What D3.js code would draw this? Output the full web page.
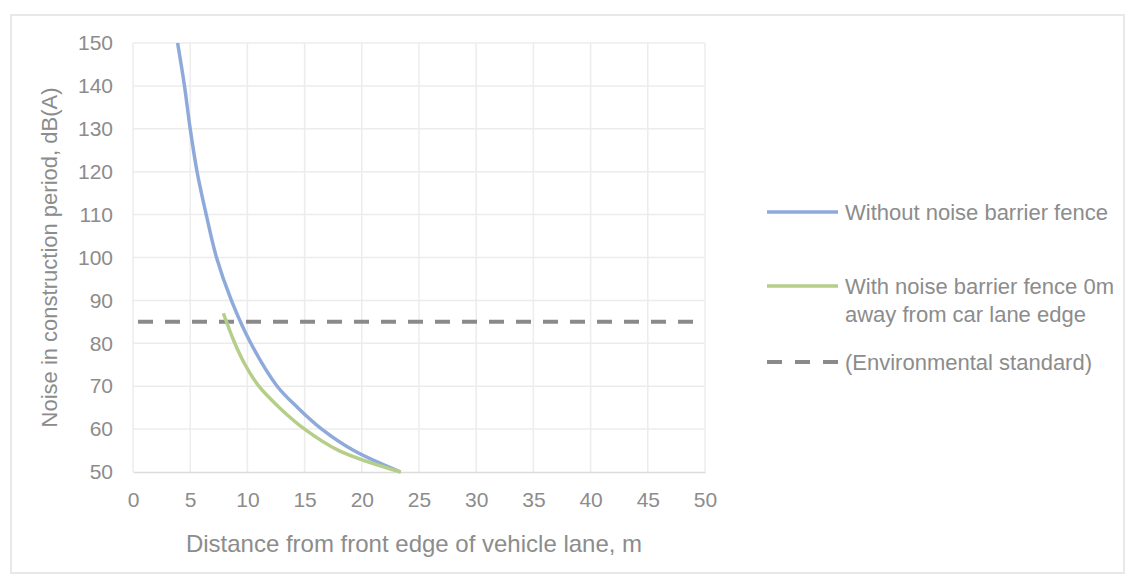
<!DOCTYPE html>
<html>
<head>
<meta charset="utf-8">
<script src="https://cdn.jsdelivr.net/npm/d3@7"></script>
<style>
    body { margin: 0; background: #fff; }
    text { font-family: "Liberation Sans", Arial, sans-serif; fill: #8c8c8c; }
</style>
</head>
<body>
<svg id="chart"></svg>
<script>
// data
const blueDist = [3.9, 4.5, 5.0, 5.6, 6.4, 7.3, 8.6, 10.3, 12.6, 14.4, 16.5, 19.3, 23.4];
const blueNoise = [150, 140, 130, 120, 110, 100, 90, 80, 70, 65, 60, 55, 50];
const greenDist = [7.9, 8.9, 9.8, 11.0, 12.8, 15.0, 18.0, 23.4];
const greenNoise = [87, 80, 75, 70, 65, 60, 55, 50];
const standardDist = [0, 50];
const standardNoise = [85, 85];
const xTicks = [0, 5, 10, 15, 20, 25, 30, 35, 40, 45, 50];
const yTicks = [50, 60, 70, 80, 90, 100, 110, 120, 130, 140, 150];
const legendLabels = [
    ['Without noise barrier fence'],
    ['With noise barrier fence 0m', 'away from car lane edge'],
    ['(Environmental standard)']
];

// dimensions
const W = 1130, H = 580;
const margin = { top: 43, right: 425, bottom: 108, left: 133 };
const width = W - margin.left - margin.right;
const height = H - margin.top - margin.bottom;

const root = d3.select('#chart').attr('width', W).attr('height', H);

// outer chart border
root.append('rect')
    .attr('x', 11).attr('y', 15)
    .attr('width', 1113).attr('height', 558)
    .attr('fill', 'none')
    .attr('stroke', '#e8e8e8')
    .attr('stroke-width', 2);

const svg = root.append('g')
    .attr('transform', `translate(${margin.left},${margin.top})`);

const x = d3.scaleLinear().domain([0, 50]).range([0, width]);
const y = d3.scaleLinear().domain([50, 150]).range([height, 0]);

// grid
svg.append('g').selectAll('line')
    .data(xTicks)
    .join('line')
    .attr('x1', d => x(d)).attr('x2', d => x(d))
    .attr('y1', 0).attr('y2', height)
    .attr('stroke', '#ececec')
    .attr('stroke-width', 1.5);

svg.append('g').selectAll('line')
    .data(yTicks.slice(1))
    .join('line')
    .attr('x1', 0).attr('x2', width)
    .attr('y1', d => y(d)).attr('y2', d => y(d))
    .attr('stroke', '#ececec')
    .attr('stroke-width', 1.5);

// axes
const xAxis = svg.append('g')
    .attr('transform', `translate(0,${height})`)
    .call(d3.axisBottom(x).tickValues(xTicks).tickSize(0).tickPadding(20));
xAxis.select('.domain').attr('stroke', '#dcdcdc').attr('stroke-width', 1.5);
xAxis.selectAll('text').style('font-size', '21px').attr('fill', '#8c8c8c');

const yAxis = svg.append('g')
    .call(d3.axisLeft(y).tickValues(yTicks).tickSize(0).tickPadding(20));
yAxis.select('.domain').remove();
yAxis.selectAll('text').style('font-size', '21px').attr('fill', '#8c8c8c');

// axis titles
svg.append('text')
    .attr('x', (x(0) + x(50)) / 2 - 5)
    .attr('y', height + 80)
    .style('text-anchor', 'middle')
    .style('font-size', '24px')
    .text('Distance from front edge of vehicle lane, m');

svg.append('text')
    .attr('transform', `translate(${-76},${height / 2}) rotate(-90)`)
    .style('text-anchor', 'middle')
    .style('font-size', '22px')
    .text('Noise in construction period, dB(A)');

// lines
const line = d3.line()
    .x(d => x(d[0]))
    .y(d => y(d[1]))
    .curve(d3.curveCatmullRom.alpha(0.5));

const standard = d3.zip(standardDist, standardNoise);
const blue = d3.zip(blueDist, blueNoise);
const green = d3.zip(greenDist, greenNoise);

svg.append('path')
    .datum(standard)
    .attr('d', d3.line().x(d => x(d[0])).y(d => y(d[1])))
    .attr('fill', 'none')
    .attr('stroke', '#8a8a8a')
    .attr('stroke-width', 4)
    .attr('stroke-dasharray', '15,12')
    .attr('stroke-dashoffset', 22);

svg.append('path')
    .datum(blue)
    .attr('d', line)
    .attr('fill', 'none')
    .attr('stroke', '#8eaadb')
    .attr('stroke-width', 3.5);

svg.append('path')
    .datum(green)
    .attr('d', line)
    .attr('fill', 'none')
    .attr('stroke', '#b5cf8a')
    .attr('stroke-width', 3.5);

// legend
const legend = root.append('g').attr('transform', 'translate(767,0)');
const legendY = [212, 286, 362];
const legendStyle = [
    { stroke: '#8eaadb', dash: null },
    { stroke: '#b5cf8a', dash: null },
    { stroke: '#8a8a8a', dash: '15,13' }
];

legendLabels.forEach((lines, i) => {
    legend.append('line')
        .attr('x1', 0).attr('x2', 71)
        .attr('y1', legendY[i]).attr('y2', legendY[i])
        .attr('stroke', legendStyle[i].stroke)
        .attr('stroke-width', i === 2 ? 4 : 3.5)
        .attr('stroke-dasharray', legendStyle[i].dash);

    const t = legend.append('text')
        .attr('x', 78)
        .attr('y', legendY[i] + 8)
        .style('font-size', '22px');
    lines.forEach((s, j) => {
        t.append('tspan')
            .attr('x', 78)
            .attr('dy', j === 0 ? 0 : 28)
            .text(s);
    });
});
</script>
</body>
</html>
